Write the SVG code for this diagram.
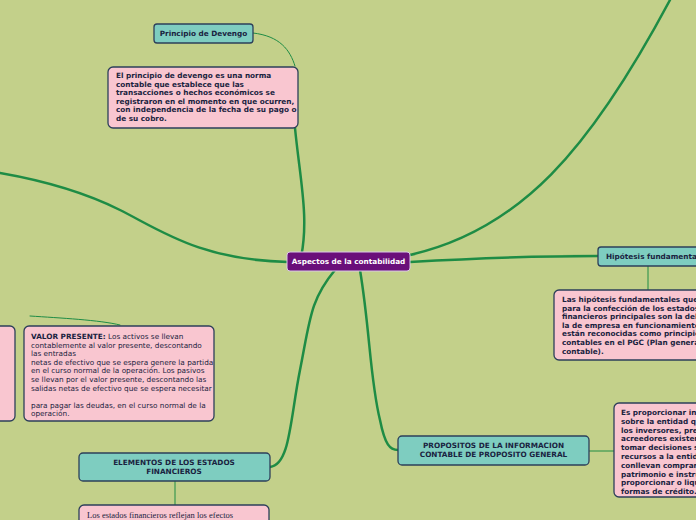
<svg xmlns="http://www.w3.org/2000/svg" width="696" height="520" viewBox="0 0 696 520">
<style>
.t{fill:#7ecdc0;stroke:#2d3f5a;stroke-width:1.3}
.p{fill:#f9c6d0;stroke:#2d3f5a;stroke-width:1.3}
.c{fill:none;stroke:#1e8c45;stroke-linecap:round}
text{font-family:Verdana,"DejaVu Sans",sans-serif;fill:#1a2340;font-size:7.3px}
.b{font-weight:bold}
</style>
<rect width="696" height="520" fill="#c3d08a"/>
<g id="connectors">
<path class="c" stroke-width="2.5" d="M300,262 C310,220 300,180 295,128"/>
<path class="c" stroke-width="1" d="M295,66 C290,50 280,36 253,33"/>
<path class="c" stroke-width="2.5" d="M288,262 C200,260 160,230 120,210 C80,190 40,180 0,173"/>
<path class="c" stroke-width="2.5" d="M410,255 C520,230 590,150 670,0"/>
<path class="c" stroke-width="2.5" d="M410,262 C480,258 540,256 598,256"/>
<path class="c" stroke-width="1" d="M648,266 L648,290"/>
<path class="c" stroke-width="2.5" d="M335,270 C310,300 310,320 300,370 C290,420 290,465 270,467"/>
<path class="c" stroke-width="1" d="M175,481 L175,505"/>
<path class="c" stroke-width="2.5" d="M360,270 C370,330 370,380 380,420 C385,445 390,450 398,450"/>
<path class="c" stroke-width="1" d="M589,451 L614,451"/>
<path class="c" stroke-width="1" d="M120,325 C100,320 60,318 30,316"/>
</g>
<g id="center"><rect x="287" y="252" width="123" height="19" rx="3" fill="#6a0f7a" stroke="#d9c9e6" stroke-width="1"/><text x="348.5" y="264" text-anchor="middle" class="b" style="fill:#fff">Aspectos de la contabilidad</text></g>
<g id="devengo"><rect class="t" x="154" y="24" width="99" height="19" rx="3"/><text x="203.5" y="36" text-anchor="middle" class="b">Principio de Devengo</text></g>
<g id="devengo-note"><rect class="p" x="108" y="67" width="190" height="61" rx="5"/><text class="b" x="116" y="78">El principio de devengo es una norma<tspan x="116" dy="8.6">contable que establece que las</tspan><tspan x="116" dy="8.6">transacciones o hechos económicos se</tspan><tspan x="116" dy="8.6">registraron en el momento en que ocurren,</tspan><tspan x="116" dy="8.6">con independencia de la fecha de su pago o</tspan><tspan x="116" dy="8.6">de su cobro.</tspan></text></g>
<g id="hipotesis"><rect class="t" x="598" y="247" width="110" height="19" rx="3"/><text x="606" y="259" class="b">Hipótesis fundamental</text></g>
<g id="hipotesis-note"><rect class="p" x="554" y="290" width="160" height="70" rx="5"/><text class="b" x="562" y="302">Las hipótesis fundamentales que s<tspan x="562" dy="8.6">para la confección de los estados</tspan><tspan x="562" dy="8.6">financieros principales son la del d</tspan><tspan x="562" dy="8.6">la de empresa en funcionamiento.</tspan><tspan x="562" dy="8.6">están reconocidas como principios</tspan><tspan x="562" dy="8.6">contables en el PGC (Plan general</tspan><tspan x="562" dy="8.6">contable).</tspan></text></g>
<g id="propositos"><rect class="t" x="398" y="436" width="191" height="29" rx="4"/><text x="493.5" y="448" text-anchor="middle" class="b">PROPOSITOS DE LA INFORMACION<tspan x="493.5" dy="9">CONTABLE DE PROPOSITO GENERAL</tspan></text></g>
<g id="propositos-note"><rect class="p" x="614" y="403" width="100" height="94" rx="5"/><text class="b" x="621" y="415">Es proporcionar inf<tspan x="621" dy="8.8">sobre la entidad qu</tspan><tspan x="621" dy="8.8">los inversores, pres</tspan><tspan x="621" dy="8.8">acreedores existen</tspan><tspan x="621" dy="8.8">tomar decisiones s</tspan><tspan x="621" dy="8.8">recursos a la entida</tspan><tspan x="621" dy="8.8">conllevan comprar,</tspan><tspan x="621" dy="8.8">patrimonio e instru</tspan><tspan x="621" dy="8.8">proporcionar o liqu</tspan><tspan x="621" dy="8.8">formas de crédito.</tspan></text></g>
<g id="elementos"><rect class="t" x="79" y="453" width="191" height="28" rx="4"/><text x="174" y="465" text-anchor="middle" class="b">ELEMENTOS DE LOS ESTADOS<tspan x="174" dy="9">FINANCIEROS</tspan></text></g>
<g id="elementos-note"><rect class="p" x="79" y="505" width="190" height="30" rx="5"/><text x="87" y="518" style="font-family:'Liberation Serif',serif;font-size:8.5px">Los estados financieros reflejan los efectos</text></g>
<g id="valor"><rect class="p" x="24" y="326" width="190" height="95" rx="5"/><text x="31" y="339"><tspan class="b">VALOR PRESENTE:</tspan> Los activos se llevan<tspan x="31" dy="8.6">contablemente al valor presente, descontando</tspan><tspan x="31" dy="8.6">las entradas</tspan><tspan x="31" dy="8.6">netas de efectivo que se espera genere la partida</tspan><tspan x="31" dy="8.6">en el curso normal de la operación. Los pasivos</tspan><tspan x="31" dy="8.6">se llevan por el valor presente, descontando las</tspan><tspan x="31" dy="8.6">salidas netas de efectivo que se espera necesitar</tspan><tspan x="31" dy="17.2">para pagar las deudas, en el curso normal de la</tspan><tspan x="31" dy="8.6">operación.</tspan></text></g>
<g id="left-cut"><rect class="p" x="-20" y="326" width="35" height="95" rx="5"/></g>
</svg>
